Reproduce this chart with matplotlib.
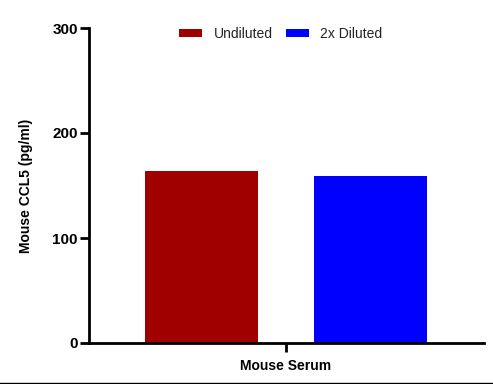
import matplotlib
matplotlib.use("Agg")
import matplotlib.pyplot as plt
from matplotlib.lines import Line2D

plt.rcParams['font.family'] = ['Liberation Sans', 'DejaVu Sans']

groups = ["Undiluted", "2x Diluted"]
values = [164, 159]
colors = ["#a00000", "#0000ff"]
category = "Mouse Serum"
yticks = [0, 100, 200, 300]

fig = plt.figure(figsize=(4.93, 3.84), dpi=100)
ax = fig.add_axes([89/493, 1-343/384, (484-89)/493, (343-28)/384])

xpos = [0, 1]
for x, v, c, g in zip(xpos, values, colors, groups):
    ax.bar(x, v, width=0.67, color=c, label=g, zorder=2)

ax.set_xlim(-0.666, 1.672)
ax.set_ylim(0, 300)
ax.set_yticks(yticks)
ax.set_yticklabels([str(t) for t in yticks], fontsize=11, fontweight='bold')
ax.set_xticks([0.5])
ax.set_xticklabels([category], fontsize=10, fontweight='bold')
ax.set_ylabel("Mouse CCL5 (pg/ml)", fontsize=10, fontweight='bold', labelpad=14)

for s in ['top', 'right']:
    ax.spines[s].set_visible(False)
for s in ['left', 'bottom']:
    ax.spines[s].set_linewidth(2)
ax.tick_params(axis='both', width=2, length=6.5, color='black')
ax.tick_params(axis='y', pad=1.5)
ax.tick_params(axis='x', pad=5)

leg = ax.legend(loc='upper center', bbox_to_anchor=(0.486, 1.042), ncol=2, frameon=False,
                fontsize=10, handlelength=1.6, handleheight=0.5, columnspacing=1.0,
                handletextpad=0.85)
for t in leg.get_texts():
    t.set_color('#222222')

fig.add_artist(Line2D([0, 1], [1-382.5/384, 1-382.5/384], transform=fig.transFigure,
                      color='black', linewidth=1))

fig.savefig("out.png", dpi=100)
